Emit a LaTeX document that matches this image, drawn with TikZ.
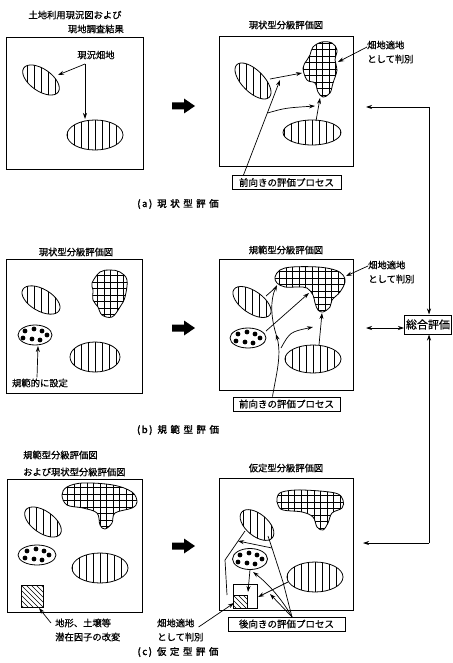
\documentclass[tikz,border=0pt]{standalone}
\usepackage{fontspec}
\newfontfamily\jp[FakeBold=0.6]{Noto Sans CJK JP}
\newfontfamily\jpb[FakeBold=1.5]{Noto Sans CJK JP}
\usetikzlibrary{arrows.meta}
\tikzset{
  lbl/.style={font=\jp\fontsize{9.3}{11}\selectfont, inner sep=0pt},
  captxt/.style={font=\jpb\fontsize{9.5}{11}\selectfont, inner sep=0pt},
  panel/.style={line width=1pt},
  shp/.style={line width=0.8pt},
  hatch/.style={line width=0.65pt},
  con/.style={line width=0.7pt, -{Stealth[length=6pt,width=4pt]}},
  dcon/.style={line width=0.7pt, {Stealth[length=6pt,width=4pt]}-{Stealth[length=6pt,width=4pt]}},
  plain/.style={line width=0.7pt},
  procbox/.style={draw, line width=1pt, inner sep=0pt, minimum height=14pt, font=\jp\fontsize{9.5}{11}\selectfont},
}
% vertically hatched ellipse: cx cy rx ry angle
\newcommand\vhell[5]{%
  \begin{scope}
    \clip[rotate around={#5:(#1,#2)}] (#1,#2) ellipse [x radius=#3pt, y radius=#4pt];
    \foreach \k in {-6,...,6}{\draw[hatch] ({#1+\k*7},{#2-35}) -- ({#1+\k*7},{#2+35});}
  \end{scope}
  \draw[shp, rotate around={#5:(#1,#2)}] (#1,#2) ellipse [x radius=#3pt, y radius=#4pt];
}
% dotted ellipse: cx cy rx ry
\newcommand\dotell[4]{%
  \draw[shp] (#1,#2) ellipse [x radius=#3pt, y radius=#4pt];
  \foreach \dx/\dy in {-10/-4,-1/-6,7/-4,-12/3,-3/4,5/5,12/0}{\fill ({#1+\dx},{#2+\dy}) circle [radius=2.4pt];}
}
% grid hatched blob: x0 y0 x1 y1 coords
\newcommand\gridblob[5]{%
  \begin{scope}
    \clip plot[smooth cycle, tension=0.6] coordinates {#5};
    \foreach \k in {0,...,14}{\draw[hatch] ({#1+3+\k*6.5},#2) -- ({#1+3+\k*6.5},#4);}
    \foreach \k in {0,...,10}{\draw[hatch] (#1,{#2+3+\k*6.5}) -- (#3,{#2+3+\k*6.5});}
  \end{scope}
  \draw[shp] plot[smooth cycle, tension=0.6] coordinates {#5};
}
% diagonal hatched square: x0 y0 x1 y1
\newcommand\dsq[4]{%
  \begin{scope}
    \clip (#1,#2) rectangle (#3,#4);
    \foreach \k in {-8,...,8}{\draw[hatch] ({#1+\k*5},#2) -- ({#1+\k*5+40},{#2+40});}
  \end{scope}
  \draw[shp] (#1,#2) rectangle (#3,#4);
}
% big block arrow at vertical centre cy
\newcommand\bigarr[1]{%
  \fill (172,{#1-3.5}) -- (184,{#1-3.5}) -- (184,{#1-7.5}) -- (195,#1) -- (184,{#1+7.5}) -- (184,{#1+3.5}) -- (172,{#1+3.5}) -- cycle;
}
\begin{document}
\begin{tikzpicture}[x=1pt,y=-1pt]
\useasboundingbox (0,0) rectangle (452,663);
\fill[white] (0,0) rectangle (452,663);

%================ (a) =================
\node[lbl] (tA1) at (75,15) {土地利用現況図および};
\node[lbl, anchor=east] (tA2) at (124,29) {現地調査結果};
\draw[panel] (6,38) rectangle (143,170);
\node[lbl] (genkyo) at (96,55) {現況畑地};
\vhell{41}{80}{21}{11}{-35}
\vhell{95}{135}{28}{15}{0}
\coordinate (gA) at (85,64);
\draw[con] (gA) -- (58,75);
\draw[con] (gA) -- (85,119);

\bigarr{106}

\node[lbl] (tA3) at (286,25) {現状型分級評価図};
\draw[panel] (219,37) rectangle (353,167);
\gridblob{300}{40}{340}{100}{(310,55) (313,47) (322,42) (332,43) (337,50) (335,60) (337,70) (333,83) (330,93) (323,97) (318,92) (315,83) (307,80) (303,68) (307,60)}
\vhell{253}{81}{23}{11}{-45}
\vhell{312}{132.5}{29}{12.5}{0}
\node[lbl, anchor=west] (hA1) at (367,45) {畑地適地};
\node[lbl, anchor=west] (hA2) at (367,59) {として判別};
\draw[con] (hA1.west) ++(0,2) -- (338,62);
\node[procbox, minimum width=109pt] (pA) at (286.5,182.5) {前向きの評価プロセス};
\coordinate (aS1) at (270,79);
\coordinate (aJ) at (267.6,113);
\coordinate (aL) at (316,121);
\draw[con] (aS1) -- (302,73);
\draw[con] (pA.north west) ++(12,0) -- (280,80);
\draw[con] (aJ) .. controls (285,108) .. (315,106);
\draw[con] (aL) -- (320,98);
\node[captxt] (capA) at (178,204) {(\,a\,)\hspace{5pt}現\hspace{3.5pt}状\hspace{3.5pt}型\hspace{3.5pt}評\hspace{3.5pt}価};

%================ (b) =================
\node[lbl] (tB1) at (76,252) {現状型分級評価図};
\draw[panel] (6,259) rectangle (142,393);
\vhell{41}{300}{21}{11}{-30}
\gridblob{88}{266}{130}{320}{(92,283) (100,272) (110,270) (120,272) (127,280) (125,297) (120,307) (112,317) (102,315) (98,307) (93,300) (93,290)}
\dotell{35}{335}{17}{10}
\vhell{95}{357}{25}{15}{0}
\node[lbl] (kihan) at (40,383) {規範的に設定};
\draw[con] (kihan.north) ++(-3,-1) -- (38,346);

\bigarr{328}

\node[lbl] (tB2) at (286,250) {規範型分級評価図};
\draw[panel] (219,259) rectangle (353,390);
\gridblob{270}{262}{350}{316}{(275,277) (280,270) (292,267) (318,267) (335,270) (343,275) (345,282) (340,292) (332,300) (330,307) (323,312) (318,310) (315,303) (313,295) (307,288) (298,287) (285,287) (277,283)}
\vhell{252}{302}{22}{11}{-35}
\dotell{248}{338}{18}{10}
\vhell{313}{359}{28}{14}{0}
\node[lbl, anchor=west] (hB1) at (368,265) {畑地適地};
\node[lbl, anchor=west] (hB2) at (368,279) {として判別};
\draw[con] (hB1.west) ++(0,1) -- (346,276);
\node[procbox, minimum width=107pt] (pB) at (286.5,404) {前向きの評価プロセス};
\coordinate (bM) at (276,334);
\coordinate (bJ) at (281,348);
\draw[con] (pB.north west) ++(40,0) .. controls (276,375) and (282,355) .. (bM);
\draw[con] (bM) .. controls (271,318) and (270,300) .. (277,285);
\draw[plain] (266,296) -- (274,289);
\draw[con] (266,331) -- (309,293);
\draw[con] (bJ) .. controls (290,332) .. (313,327);
\draw[con] (319,345) -- (322,313);
\node[captxt] (capB) at (178,430) {(\,b\,)\hspace{5pt}規\hspace{3.5pt}範\hspace{3.5pt}型\hspace{3.5pt}評\hspace{3.5pt}価};

% ===== feedback to 総合評価 =====
\node[draw, line width=1pt, minimum width=47pt, minimum height=19pt, inner sep=0pt, font=\jp\fontsize{11}{12}\selectfont] (sogo) at (428,324.5) {総合評価};
\coordinate (fbT) at (429,107);
\coordinate (fbB) at (429,543);
\draw[con] (fbT) -- (366,107);
\draw[con] (fbT) -- (fbT |- sogo.north);
\draw[con] (fbB) -- (363,543);
\draw[con] (fbB) -- (fbB |- sogo.south);
\draw[dcon] (366,328) -- (sogo.west |- 0,328);

%================ (c) =================
\node[lbl, anchor=west] (tC1) at (23,455) {規範型分級評価図};
\node[lbl, anchor=west] (tC2) at (23,472) {および現状型分級評価図};
\draw[panel] (7,479) rectangle (142,612);
\gridblob{58}{478}{140}{535}{(62,495) (67,487) (83,483) (113,485) (132,492) (137,502) (132,508) (115,513) (112,523) (105,529) (100,525) (97,513) (83,508) (67,505)}
\vhell{43}{522}{21}{11}{-35}
\dotell{37}{555}{19}{10}
\vhell{100}{568}{28}{15}{0}
\dsq{21}{585}{43}{607}
\node[lbl, anchor=west] (chikei) at (55,623) {地形、土壌等};
\node[lbl, anchor=west] (senzai) at (55,637) {潜在因子の改変};
\draw[con] (chikei.west) ++(-4,0) -- (39,608);
\node[lbl, anchor=west] (hC1) at (157,623) {畑地適地};
\node[lbl, anchor=west] (hC2) at (157,637) {として判別};

\bigarr{546}

\node[lbl] (tC3) at (286,468) {仮定型分級評価図};
\draw[panel] (219,478) rectangle (353,610);
\gridblob{272}{486}{350}{535}{(277,498) (282,492) (302,490) (335,493) (343,500) (342,508) (332,513) (328,523) (323,530) (317,527) (313,517) (302,512) (283,510) (278,505)}
\vhell{257}{525}{20}{11}{-40}
\dotell{250}{559}{17.5}{10.5}
\vhell{315}{577}{28}{15}{0}
\draw[shp] (233,584) rectangle (257,608);
\dsq{233}{595}{247}{608}
\node[procbox, minimum width=117pt] (pC) at (286.5,624) {後向きの評価プロセス};
\coordinate (cP1) at (227,595);
\coordinate (cP2) at (225,560);
\coordinate (cP3) at (245,531);
\coordinate (cQ1) at (268,536);
\coordinate (cQ2) at (272,548);
\coordinate (cQ3) at (283,582);
\coordinate (cTop) at (292,617);
\draw[plain] (cP1) -- (cP2) -- (cP3);
\draw[plain] (cQ1) -- (cQ2) -- (cQ3) -- (cTop);
\draw[con] (cQ2) -- (238,541);
\draw[con] (250,569.5) -- (248,592);
\draw[con] (288,582) -- (258,597);
\draw[con] (cTop) .. controls (280,596) and (266,582) .. (253,572);
\draw[con] (cTop) -- (270,594);
\draw[con] (hC1.east) ++(4,4) -- (234,603);
\node[captxt] (capC) at (178,652) {(\,c\,)\hspace{5pt}仮\hspace{3.5pt}定\hspace{3.5pt}型\hspace{3.5pt}評\hspace{3.5pt}価};
\end{tikzpicture}
\end{document}
